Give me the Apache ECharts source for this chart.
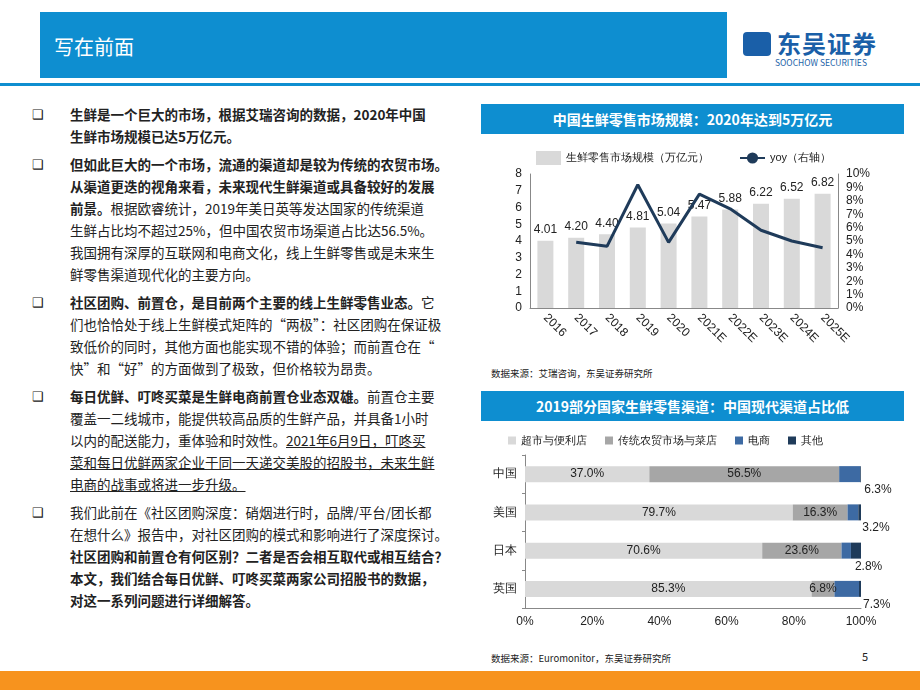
<!DOCTYPE html>
<html><head><meta charset="utf-8">
<script src="https://cdn.jsdelivr.net/npm/echarts@6/dist/echarts.min.js"></script>
<style>
body{margin:0;width:920px;height:690px;position:relative;overflow:hidden;background:#fff;font-family:"Noto Sans CJK SC","Noto Sans",sans-serif;}
#head{position:absolute;left:40px;top:12px;width:687px;height:66px;background:#0e8ed0;}
#head span{position:absolute;left:14px;top:20px;color:#fff;font-size:20px;}
#hline{position:absolute;left:0;top:83px;width:920px;height:3px;background:#0e8ed0;}
#logo{position:absolute;left:743px;top:28px;}
#logo .cn{font-size:24px;font-weight:bold;color:#1a5fa8;letter-spacing:1px;position:absolute;left:34px;top:-3px;white-space:nowrap;}
#logo .en{font-size:8.5px;color:#1a5fa8;position:absolute;left:32px;top:28px;white-space:nowrap;}
#logo .ic{position:absolute;left:0;top:4px;width:28px;height:24px;background:#1a5fa8;border-radius:4px;}
#foot{position:absolute;left:0;top:671px;width:920px;height:19px;background:#f7931e;}
#txt{position:absolute;left:32px;top:103px;width:450px;font-size:13.5px;line-height:22px;color:#222;white-space:nowrap;}
#txt p{margin:0 0 6px 0;padding-left:38px;position:relative;}
#txt p:before{content:"❑";position:absolute;left:0;top:0;font-size:13px;}
b{font-weight:bold;}
.u{text-decoration:underline;}
.tbar{position:absolute;left:481px;width:423px;height:30px;background:#0e8ed0;color:#fff;font-size:14px;font-weight:bold;text-align:center;line-height:30px;}
.src{position:absolute;left:491px;font-size:9.5px;color:#222;}
#c1{position:absolute;left:481px;top:140px;width:420px;height:225px;}
#c2{position:absolute;left:481px;top:428px;width:420px;height:215px;}
</style></head><body>
<div id="head"><span>写在前面</span></div>
<div id="hline"></div>
<div id="logo"><div class="ic"></div><div class="cn">东吴证券</div><div class="en">SOOCHOW SECURITIES</div></div>
<div id="txt">
<p><b>生鲜是一个巨大的市场，根据艾瑞咨询的数据，2020年中国<br>生鲜市场规模已达5万亿元。</b></p>
<p><b>但如此巨大的一个市场，流通的渠道却是较为传统的农贸市场。<br>从渠道更迭的视角来看，未来现代生鲜渠道或具备较好的发展<br>前景。</b>根据欧睿统计，2019年美日英等发达国家的传统渠道<br>生鲜占比均不超过25%，但中国农贸市场渠道占比达56.5%。<br>我国拥有深厚的互联网和电商文化，线上生鲜零售或是未来生<br>鲜零售渠道现代化的主要方向。</p>
<p><b>社区团购、前置仓，是目前两个主要的线上生鲜零售业态。</b>它<br>们也恰恰处于线上生鲜模式矩阵的“两极”：社区团购在保证极<br>致低价的同时，其他方面也能实现不错的体验；而前置仓在“<br>快”和“好”的方面做到了极致，但价格较为昂贵。</p>
<p><b>每日优鲜、叮咚买菜是生鲜电商前置仓业态双雄。</b>前置仓主要<br>覆盖一二线城市，能提供较高品质的生鲜产品，并具备1小时<br>以内的配送能力，重体验和时效性。<span class="u">2021年6月9日，叮咚买<br>菜和每日优鲜两家企业于同一天递交美股的招股书，未来生鲜<br>电商的战事或将进一步升级。</span></p>
<p>我们此前在《社区团购深度：硝烟进行时，品牌/平台/团长都<br>在想什么》报告中，对社区团购的模式和影响进行了深度探讨。<br><b>社区团购和前置仓有何区别？二者是否会相互取代或相互结合？<br>本文，我们结合每日优鲜、叮咚买菜两家公司招股书的数据，<br>对这一系列问题进行详细解答。</b></p>
</div>
<div class="tbar" style="top:104px">中国生鲜零售市场规模：2020年达到5万亿元</div>
<div id="c1"></div>
<div class="src" style="top:366px">数据来源：艾瑞咨询，东吴证券研究所</div>
<div class="tbar" style="top:391px">2019部分国家生鲜零售渠道：中国现代渠道占比低</div>
<div id="c2"></div>
<div class="src" style="top:651px">数据来源：Euromonitor，东吴证券研究所</div>
<div class="src" style="top:648px;left:862px;font-size:11px">5</div>
<div id="foot"></div>
<script>
var years = ['2016','2017','2018','2019','2020','2021E','2022E','2023E','2024E','2025E'];
var marketSize = [4.01,4.20,4.40,4.81,5.04,5.47,5.88,6.22,6.52,6.82];
var yoy = [null,4.9,4.6,9.2,4.9,8.5,7.4,5.8,5.0,4.5];
var yoyLabelPos = ['bottom','bottom','bottom','top','bottom','top','bottom','bottom','bottom','bottom'];

var countries = ['中国','美国','日本','英国'];
var superMarket = [37.0,79.7,70.6,85.3];
var traditional = [56.5,16.3,23.6,6.8];
var eCommerce = [6.3,3.2,2.8,7.3];
var others = [0.2,0.8,3.0,0.6];

var txt = {color:'#222',fontSize:12,fontFamily:'Liberation Sans'};
var chart1 = echarts.init(document.getElementById('c1'));
chart1.setOption({
	animation:false,
	legend:{top:6,left:50,itemGap:30,textStyle:{color:'#222',fontSize:11},
		data:[{name:'生鲜零售市场规模（万亿元）',icon:'rect',itemWidth:28,itemHeight:10},{name:'yoy（右轴）',itemWidth:28}]},
	grid:{left:49,right:63,top:34,bottom:57},
	xAxis:{type:'category',data:years,axisTick:{show:false},axisLine:{lineStyle:{color:'#888'}},
		axisLabel:Object.assign({rotate:-45,margin:8,align:'left'},txt)},
	yAxis:[{type:'value',min:0,max:8,interval:1,splitLine:{show:false},axisLine:{show:true,lineStyle:{color:'#888'}},axisLabel:txt},
		{type:'value',min:0,max:10,interval:1,splitLine:{show:false},axisLine:{show:true,lineStyle:{color:'#888'}},
		axisLabel:Object.assign({formatter:'{value}%'},txt)}],
	series:[{name:'生鲜零售市场规模（万亿元）',type:'bar',barWidth:16,itemStyle:{color:'#d9d9d9'},
		label:Object.assign({show:true,position:'top',formatter:function(p){return p.value.toFixed(2);}},txt),data:marketSize},
	{name:'yoy（右轴）',type:'line',yAxisIndex:1,symbol:'none',lineStyle:{color:'#1f3b5a',width:3},itemStyle:{color:'#1f3b5a'},
		data:yoy.map(function(v,i){return {value:v,label:Object.assign({show:v!==null,position:yoyLabelPos[i],distance:12,formatter:function(p){return p.value.toFixed(1)+'%';}},txt)};})}]
});

var chart2 = echarts.init(document.getElementById('c2'));
function lbl(extra){return Object.assign({show:true,formatter:function(p){return p.value.toFixed(1)+'%';}},txt,extra||{});}
chart2.setOption({
	animation:false,
	legend:{top:2,left:22,itemGap:18,itemWidth:8,itemHeight:8,icon:'rect',textStyle:{color:'#222',fontSize:11}},
	grid:{left:44,right:40,top:27,bottom:35},
	xAxis:{type:'value',min:0,max:100,interval:20,splitLine:{show:false},axisLine:{show:true,lineStyle:{color:'#888'}},
		axisLabel:Object.assign({formatter:'{value}%'},txt)},
	yAxis:{type:'category',data:countries,inverse:true,axisLine:{lineStyle:{color:'#888'}},axisTick:{show:true,length:3},axisLabel:txt},
	series:[
	{name:'超市与便利店',type:'bar',stack:'s',barWidth:16,itemStyle:{color:'#d9d9d9'},label:lbl({position:'inside'}),data:superMarket},
	{name:'传统农贸市场与菜店',type:'bar',stack:'s',itemStyle:{color:'#a6a6a6'},label:lbl({position:'inside'}),data:traditional},
	{name:'电商',type:'bar',stack:'s',itemStyle:{color:'#3d6aa3'},label:lbl({position:['100%','110%'],offset:[4,0],align:'left'}),data:eCommerce},
	{name:'其他',type:'bar',stack:'s',itemStyle:{color:'#1f3b5a'},data:others}]
});
</script>
</body></html>
